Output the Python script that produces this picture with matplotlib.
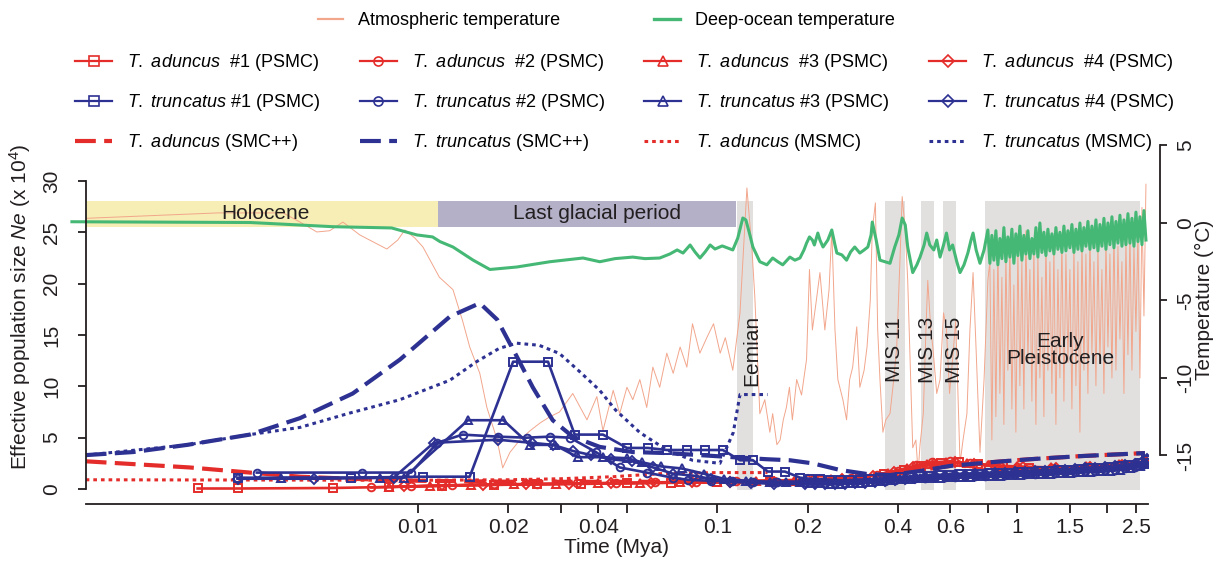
import numpy as np
import matplotlib
matplotlib.use("Agg")
import matplotlib.pyplot as plt
from matplotlib.lines import Line2D
from matplotlib.ticker import NullFormatter

plt.rcParams['font.family'] = ['Liberation Sans', 'DejaVu Sans']
plt.rcParams['mathtext.fontset'] = 'custom'
plt.rcParams['mathtext.rm'] = 'Liberation Sans'
plt.rcParams['mathtext.it'] = 'Liberation Sans:italic'
plt.rcParams['axes.unicode_minus'] = False

# ---------------- data (time in ka, Ne in x10^4, temperature in degC) ----------------
# epochs (ka)
holocene_ka = (0.78, 11.7)
glacial_ka = (11.7, 115)
gray_bands_ka = [(116, 132), (363, 423), (478, 529), (566, 627), (783, 2580)]
gray_labels = ["Eemian", "MIS 11", "MIS 13", "MIS 15"]
gray_label_ka = [130, 390, 504, 620]

# atmospheric temperature
atm_ka = [0.778, 1.38, 2.15, 3.55, 4.04, 4.60, 5.08, 5.62, 6.40, 7.88, 8.57, 9.05, 9.77, 10.4,
          11.8, 13.1, 14.1, 14.9, 16.1, 17.0, 18.4, 19.2, 20.3, 21.9, 23.7, 25.6, 27.6,
          29.7, 32.9, 36.7, 39.6, 41.5, 44.9, 47.2, 49.9, 52.2, 55.1, 58.1, 60.9, 64.2, 67.8,
          71.2, 75.1, 79.1, 82.6, 87.4, 92.2, 97.1, 102.2, 106.3, 112.6, 119, 125.5,
          130.5, 133.4, 138.6, 144, 149.7, 153, 158, 162, 166, 170, 174, 178, 184, 191, 198.5,
          203, 207.6, 214, 220, 228.5, 236, 241, 247, 252.5, 262.5, 270, 276.5, 283, 292, 299,
          309, 316, 324, 329, 337, 343, 349, 357, 365, 377, 388, 397, 407, 414, 424, 432, 442,
          449, 460, 468, 475, 487, 497, 504, 516, 524, 540, 554, 569, 582, 596, 610, 625, 646,
          661, 681, 697, 714, 731, 753, 777, 800,
          812.5, 825.1, 837.9, 850.9, 864.1, 877.5, 891.1, 904.9, 918.9, 933.1, 947.6, 962.3,
          977.2, 992.3, 1007.7, 1023.3, 1039.2, 1055.3, 1071.7, 1088.3, 1105.2, 1122.3, 1139.7,
          1157.4, 1175.3, 1193.5, 1212.0, 1230.8, 1249.9, 1269.3, 1289.0, 1309.0, 1329.2,
          1349.8, 1370.8, 1392.0, 1413.6, 1435.5, 1457.8, 1480.4, 1503.3, 1526.6, 1550.3,
          1574.3, 1598.7, 1623.5, 1648.7, 1674.2, 1700.2, 1726.5, 1753.3, 1780.5, 1808.1,
          1836.1, 1864.6, 1893.5, 1922.8, 1952.6, 1982.9, 2013.6, 2044.8, 2076.5, 2108.7,
          2141.4, 2174.6, 2208.3, 2242.5, 2277.3, 2312.6, 2348.4, 2384.8, 2421.8, 2459.3,
          2497.4, 2536.1, 2575.4, 2615.4, 2655.9, 2697.1]
atm_temp = [0.3, 0.5, 0.65, 0.65, 0.06, -0.58, -0.5, 0.06, -0.77, -1.68, -1.1, -0.45, -0.97, -1.55,
            -3.5, -4.3, -6.3, -8.0, -9.7, -11.9, -14.0, -15.8, -14.8, -14.0, -13.4, -12.9, -12.5,
            -12.2, -11.0, -12.7, -11.2, -13.4, -10.8, -12.3, -10.6, -11.4, -10.1, -11.9, -9.3,
            -10.6, -8.4, -9.7, -8.0, -9.3, -6.5, -8.4, -7.4, -6.5, -8.4, -7.4, -9.5, -5.8, 2.26,
            -1.74, -4.8, -12.3, -11.4, -13.5, -12.3, -14.3, -14.0, -12.7, -11.9, -10.6, -12.7,
            -10.1, -11.1, -8.8, -3.0, -6.9, -5.0, -3.2, -6.9, -4.3, -0.45, -6.9, -10.1, -11.4,
            -12.7, -10.1, -9.3, -6.7, -10.6, -9.5, -8.0, -5.0, -0.45, 1.3, -6.9, -10.1, -13.5,
            -12.7, -12.3, -10.1, -8.0, -2.4, 1.7, -0.45, -3.7, -10.1, -14.5, -14.0, -16.1, -14.3,
            -12.3, -6.9, -3.7, -6.9, -8.0, -11.0, -10.1, -5.8, -6.9, -11.0, -8.8, -6.3, -15.5,
            -14.0, -12.3, -6.9, -3.2, -8.2, -14.8, -10.1, -3.7,
            -2.5, -14.0, -3.0, -12.5, -1.5, -11.0, -3.5, -13.0, -2.0, -9.5, -1.0, -12.0, -4.0,
            -13.5, -1.5, -10.5, -2.5, -12.0, -0.5, -9.0, -3.0, -11.5, -1.5, -13.0, -2.0, -10.0,
            -3.5, -12.5, -1.0, -9.5, -2.5, -11.0, -1.5, -13.0, -3.0, -10.0, -1.0, -11.5, -2.0,
            -9.0, -3.0, -12.0, -1.5, -10.5, -2.5, -13.5, -1.0, -9.5, -2.0, -11.0, -0.5, -8.5,
            -2.5, -10.5, -1.5, -9.0, -3.0, -11.0, -1.0, -8.0, -2.0, -10.0, -0.5, -9.5, -1.5,
            -7.5, -2.5, -11.0, -1.0, -8.5, -0.5, -9.5, -1.5, -7.0, -0.5, -10.0, 1.0, -6.0, 2.5]

# deep-ocean temperature
ocean_ka = [0.70, 1.27, 2.76, 5.21, 8.17, 9.92, 11.2, 11.85, 13.1, 15.3, 17.4, 21.4, 27.6, 35.6,
            40.5, 45.5, 52.2, 57.3, 64.2, 69.4, 73.4, 76.8, 81.1, 84.2, 87.5, 91, 94.6, 98.2,
            103.8, 112.6, 117, 121.6, 124.5, 128.4, 131.4, 138.6, 146.3, 153, 159.2, 165.3,
            174.6, 181.5, 188.7, 194.6, 198.5, 203, 207.6, 210.8, 216.5, 220, 225.3, 233.8, 241,
            247, 250.6, 260.5, 270, 278.5, 287.5, 299, 309, 318, 326, 329, 339, 349, 362.5, 377,
            391, 403.6, 414, 424, 432, 449, 463.5, 475, 490, 500, 512, 528, 540, 554, 569, 582,
            596, 610, 630, 646, 666, 686, 703, 714, 731, 753, 777, 800,
            812.5, 825.1, 837.9, 850.9, 864.1, 877.5, 891.1, 904.9, 918.9, 933.1, 947.6, 962.3,
            977.2, 992.3, 1007.7, 1023.3, 1039.2, 1055.3, 1071.7, 1088.3, 1105.2, 1122.3, 1139.7,
            1157.4, 1175.3, 1193.5, 1212.0, 1230.8, 1249.9, 1269.3, 1289.0, 1309.0, 1329.2,
            1349.8, 1370.8, 1392.0, 1413.6, 1435.5, 1457.8, 1480.4, 1503.3, 1526.6, 1550.3,
            1574.3, 1598.7, 1623.5, 1648.7, 1674.2, 1700.2, 1726.5, 1753.3, 1780.5, 1808.1,
            1836.1, 1864.6, 1893.5, 1922.8, 1952.6, 1982.9, 2013.6, 2044.8, 2076.5, 2108.7,
            2141.4, 2174.6, 2208.3, 2242.5, 2277.3, 2312.6, 2348.4, 2384.8, 2421.8, 2459.3,
            2497.4, 2536.1, 2575.4, 2615.4, 2655.9, 2697.1]
ocean_temp = [0.08, 0.06, 0.03, -0.24, -0.32, -0.77, -0.9, -1.2, -1.55, -2.4, -3.0, -2.84, -2.5,
              -2.26, -2.5, -2.3, -2.2, -2.3, -2.26, -2.0, -1.74, -1.94, -1.42, -1.87, -2.26, -1.87,
              -1.42, -1.68, -1.48, -1.74, -0.97, 0.32, 0.2, -0.77, -1.55, -2.5, -2.7, -2.26, -2.5,
              -2.7, -2.2, -2.4, -2.26, -1.74, -1.3, -0.9, -1.1, -1.42, -0.65, -1.1, -1.55, -1.1,
              -0.45, -1.42, -1.94, -2.06, -2.4, -1.87, -1.55, -1.94, -1.74, -1.55, -0.77, 0.06,
              -1.1, -2.4, -2.5, -2.6, -1.55, -0.77, 0.32, -0.13, -1.55, -3.2, -2.7, -2.2, -1.42,
              -0.65, -1.42, -1.74, -1.1, -2.2, -1.42, -0.65, -1.74, -1.42, -2.5, -3.2, -2.7, -1.94,
              -1.1, -0.65, -1.74, -2.6, -1.74, -0.45,
              -2.6, -0.8, -2.4, -0.5, -2.7, -1.0, -2.3, -0.3, -2.5, -0.9, -2.2, -0.4, -2.6, -0.7,
              -2.1, -0.2, -2.4, -0.8, -2.0, -0.5, -2.3, -1.0, -2.0, -0.3, -2.2, 0.0, -1.9, -0.6,
              -2.1, -0.4, -1.8, -0.7, -2.0, -0.3, -1.7, -0.6, -1.9, -0.2, -1.8, -0.5, -1.6, -0.1,
              -1.9, -0.4, -1.7, 0.0, -1.8, -0.3, -1.5, 0.1, -1.7, -0.2, -1.6, 0.2, -1.8, -0.1,
              -1.5, 0.3, -1.7, 0.0, -1.4, 0.4, -1.6, 0.1, -1.3, 0.5, -1.5, 0.2, -1.4, 0.6, -1.3,
              0.3, -1.5, 0.7, -1.2, 0.4, -1.4, 0.8, -1.1]

# T. aduncus PSMC
ad1_ka = [1.84, 2.5, 5.2, 8.0, 12, 18, 25, 35, 50, 70, 100, 150, 220, 300, 360, 420, 480, 560,
          640, 740, 900, 1100, 1400, 1800, 2300, 2700]
ad1_ne = [0.05, 0.05, 0.1, 0.2, 0.3, 0.4, 0.45, 0.5, 0.55, 0.6, 0.65, 0.75, 0.9, 1.1, 1.5, 1.9,
          2.2, 2.5, 2.6, 2.4, 2.2, 2.0, 1.9, 2.0, 2.2, 2.5]
ad2_ka = [7.0, 9.5, 13, 18, 25, 34, 46, 62, 85, 115, 155, 210, 280, 340, 400, 460, 520, 600,
          700, 850, 1000, 1300, 1700, 2200, 2700]
ad2_ne = [0.15, 0.25, 0.35, 0.45, 0.5, 0.55, 0.6, 0.65, 0.7, 0.75, 0.8, 0.95, 1.1, 1.4, 1.8,
          2.3, 2.6, 2.7, 2.5, 2.3, 2.1, 2.0, 2.1, 2.3, 2.6]
ad3_ka = [8.0, 11, 15, 21, 29, 40, 55, 75, 100, 135, 180, 240, 310, 370, 430, 500, 580, 680,
          800, 1000, 1300, 1700, 2200, 2700]
ad3_ne = [0.2, 0.3, 0.4, 0.45, 0.5, 0.55, 0.6, 0.65, 0.7, 0.75, 0.8, 0.95, 1.2, 1.6, 2.0, 2.4,
          2.6, 2.5, 2.3, 2.2, 2.1, 2.2, 2.4, 2.7]
ad4_ka = [9.0, 12, 16.5, 23, 32, 44, 60, 82, 110, 150, 200, 260, 330, 390, 450, 530, 620, 720,
          880, 1050, 1350, 1750, 2250, 2700]
ad4_ne = [0.25, 0.35, 0.4, 0.45, 0.5, 0.55, 0.6, 0.65, 0.7, 0.75, 0.85, 1.0, 1.3, 1.7, 2.1,
          2.4, 2.6, 2.4, 2.2, 2.1, 2.0, 2.1, 2.3, 2.6]

# T. truncatus PSMC (old time intervals shared by pairs of samples)
tail_a_ka = [189, 204, 220, 238, 257, 277, 299, 323, 349, 377, 407, 439, 474, 512, 553, 597, 645,
             696, 752, 812, 877, 947, 1023, 1105, 1193, 1289, 1392, 1503, 1623, 1753, 1893, 2044,
             2208, 2384, 2575, 2697]
tail_b_ka = [196, 212, 229, 247, 267, 288, 311, 336, 363, 392, 423, 456, 492, 532, 575, 620, 670,
             723, 781, 844, 911, 984, 1063, 1148, 1240, 1339, 1446, 1562, 1686, 1821, 1967, 2124,
             2294, 2477, 2620, 2720]
tr1_ka = [2.5, 6.0, 10.4, 14.9, 20.8, 27.2, 33.4, 41.5, 49.9, 58.6, 67.8, 79.1, 90.8, 104.3,
          119, 131.4, 147.4, 168] + tail_a_ka
tr1_ne = [1.1, 1.1, 1.2, 1.2, 12.4, 12.4, 5.3, 5.3, 4.0, 4.0, 3.8, 3.8, 3.8, 3.8, 2.8, 2.8,
          1.7, 1.7,
          1.1, 1.0, 0.95, 0.9, 0.85, 0.85, 0.9, 0.95, 1.0, 1.1, 1.15, 1.2, 1.25, 1.3, 1.35, 1.4,
          1.45, 1.5, 1.5, 1.55, 1.6, 1.6, 1.65, 1.7, 1.75, 1.8, 1.85, 1.9, 1.95, 2.0, 2.05, 2.1,
          2.2, 2.35, 2.55, 2.8]
tr2_ka = [2.9, 6.5, 9.5, 11.6, 14.1, 18.5, 23.1, 27.6, 32.2, 39.3, 47.2, 58.1, 71, 80, 95,
          112, 132, 158] + tail_b_ka
tr2_ne = [1.6, 1.6, 1.6, 4.5, 5.3, 5.1, 5.0, 5.1, 5.0, 3.6, 2.1, 1.6, 1.1, 0.9, 0.8, 0.75,
          0.7, 0.7,
          0.7, 0.65, 0.6, 0.6, 0.6, 0.65, 0.7, 0.75, 0.8, 0.9, 1.0, 1.05, 1.1, 1.15, 1.2, 1.2,
          1.25, 1.3, 1.3, 1.35, 1.4, 1.45, 1.5, 1.5, 1.55, 1.6, 1.65, 1.7, 1.75, 1.8, 1.85, 1.9,
          2.0, 2.15, 2.35, 2.6]
tr3_ka = [3.5, 7.5, 9.0, 14.7, 19.3, 23.7, 28.6, 34.2, 41.5, 50, 56, 65, 76, 90, 105, 125,
          150, 170] + tail_a_ka
tr3_ne = [1.1, 1.1, 1.1, 6.7, 6.7, 4.3, 4.3, 3.1, 3.1, 3.0, 2.6, 2.2, 2.0, 1.5, 1.0, 0.8,
          0.7, 0.7,
          0.7, 0.6, 0.55, 0.5, 0.5, 0.55, 0.6, 0.65, 0.75, 0.85, 0.95, 1.0, 1.05, 1.1, 1.1, 1.15,
          1.2, 1.2, 1.25, 1.3, 1.3, 1.35, 1.4, 1.45, 1.5, 1.5, 1.55, 1.6, 1.65, 1.7, 1.75, 1.8,
          1.9, 2.05, 2.2, 2.45]
tr4_ka = [2.5, 4.5, 8.3, 11.3, 18.5, 24, 28.2, 33, 38, 44, 52, 61, 71, 83, 95, 110, 130,
          155] + tail_b_ka
tr4_ne = [1.0, 1.0, 1.1, 4.5, 4.8, 4.5, 4.3, 3.7, 3.3, 2.9, 2.7, 2.1, 1.5, 1.3, 1.0, 0.7,
          0.6, 0.5,
          0.5, 0.45, 0.45, 0.45, 0.5, 0.55, 0.6, 0.7, 0.8, 0.9, 1.0, 1.1, 1.2, 1.25, 1.3, 1.35,
          1.4, 1.45, 1.5, 1.55, 1.6, 1.65, 1.7, 1.75, 1.8, 1.85, 1.9, 1.95, 2.0, 2.05, 2.1, 2.2,
          2.3, 2.45, 2.65, 2.9]

# SMC++
tr_smc_ka = [0.778, 1.12, 1.70, 2.75, 4.04, 6.06, 8.71, 12.8, 16.1, 18.4, 21.4, 24.2, 28.2,
             32.9, 40.5, 52.2, 67.8, 87.4, 112.7, 146.3, 174.6, 208, 257, 316, 377, 475, 596,
             812.5, 1105, 1623, 2676]
tr_smc_ne = [3.3, 3.6, 4.3, 5.3, 6.9, 9.3, 12.6, 16.8, 18.1, 16.5, 12.9, 9.9, 6.7, 5.1, 4.1,
             3.6, 3.5, 3.3, 3.1, 2.9, 2.8, 2.5, 1.85, 1.46, 1.36, 1.75, 2.24, 2.6, 2.9, 3.2, 3.5]
ad_smc_ka = [0.778, 1.73, 2.75, 4.04, 5.93, 10.15, 21.9, 47.2, 102, 188.7, 299, 377, 596,
             812.5, 1105, 1623, 2676]
ad_smc_ne = [2.7, 2.1, 1.6, 1.2, 1.0, 0.8, 0.7, 0.7, 0.7, 0.8, 1.1, 1.46, 2.24, 2.6, 2.9, 3.2,
             3.5]

# MSMC
tr_msmc_ka = [0.778, 1.70, 2.75, 4.04, 5.93, 8.71, 12.8, 15.7, 18.7, 21.4, 25.4, 29.7, 34.8,
              40.5, 45.7, 55.1, 67.8, 82.6, 102, 113, 119, 147]
tr_msmc_ne = [3.3, 4.3, 5.3, 6.0, 7.4, 8.7, 10.6, 12.4, 13.7, 14.2, 14.0, 13.2, 11.4, 9.6, 7.7,
              5.5, 3.8, 2.8, 2.5, 5.5, 9.2, 9.2]
ad_msmc_ka = [0.778, 10, 20, 30, 45, 65, 100, 147]
ad_msmc_ne = [0.9, 0.85, 0.9, 1.0, 1.2, 1.5, 1.6, 1.6]

# ---------------- styles ----------------
RED = '#E42D2A'
BLUE = '#2D3192'
GREEN = '#46B875'
ATM = '#F2A68C'
INK = '#231F20'
FS = 15

fig = plt.figure(figsize=(12.22, 5.61), dpi=100)
ax = fig.add_axes([86 / 1222, 57 / 561, 1062 / 1222, 361 / 561])
ax2 = ax.twinx()
ax.set_zorder(2)
ax2.set_zorder(1)
ax.patch.set_visible(False)

ka = lambda v: np.asarray(v) / 1000.0

# bands and temperature (right axis)
ax2.fill_between(ka(holocene_ka), -0.26, 1.42, color='#F6EEB4', lw=0, zorder=0)
ax2.fill_between(ka(glacial_ka), -0.26, 1.42, color='#B4B0C8', lw=0, zorder=0)
for a, b in gray_bands_ka:
    ax2.fill_between(ka([a, b]), -17.2, 1.42, color='#9F9B97', alpha=0.3, lw=0, zorder=0)
ax2.plot(ka(atm_ka), atm_temp, color=ATM, lw=0.7, zorder=2)
ax2.plot(ka(ocean_ka), ocean_temp, color=GREEN, lw=2.2, zorder=3, clip_on=False)

ax2.text(ka(3.1), 0.58, 'Holocene', fontsize=FS, ha='center', va='center', color=INK, zorder=4)
ax2.text(ka(39.6), 0.58, 'Last glacial period', fontsize=FS, ha='center', va='center',
         color=INK, zorder=4)
for lab, t in zip(gray_labels, gray_label_ka):
    ax2.text(ka(t), -8.2, lab, fontsize=FS, rotation=90, ha='center', va='center', color=INK,
             zorder=4)
ax2.text(ka(1392), -8.2, 'Early\nPleistocene', fontsize=FS, ha='center', va='center',
         color=INK, linespacing=0.9, zorder=4)

# population curves (left axis)
psmc_kw = dict(lw=1.9, ms=5.5, mfc='none', mew=1.4)
ad_series = [(ad1_ka, ad1_ne, 's'), (ad2_ka, ad2_ne, 'o'), (ad3_ka, ad3_ne, '^'),
             (ad4_ka, ad4_ne, 'D')]
tr_series = [(tr1_ka, tr1_ne, 's'), (tr2_ka, tr2_ne, 'o'), (tr3_ka, tr3_ne, '^'),
             (tr4_ka, tr4_ne, 'D')]
ax.plot(ka(ad_msmc_ka), ad_msmc_ne, color=RED, lw=2.2, dashes=(1.2, 1.3))
ax.plot(ka(ad_smc_ka), ad_smc_ne, color=RED, lw=3, dashes=(5, 2))
for t, n, m in ad_series:
    ax.plot(ka(t), n, color=RED, marker=m, **psmc_kw)
for t, n, m in tr_series:
    ax.plot(ka(t), n, color=BLUE, marker=m, **psmc_kw)
ax.plot(ka(tr_msmc_ka), tr_msmc_ne, color=BLUE, lw=2.2, dashes=(1.2, 1.3))
ax.plot(ka(tr_smc_ka), tr_smc_ne, color=BLUE, lw=3, dashes=(5, 2))

# axes
ax.set_xscale('log')
ax.set_xlim(0.00078, 2.74)
ax.set_ylim(-1.46, 33.7)
ax2.set_ylim(-18.13, 5.16)
major = [0.01, 0.02, 0.04, 0.1, 0.2, 0.4, 0.6, 1, 1.5, 2.5]
ax.set_xticks(major)
ax.set_xticklabels(['0.01', '0.02', '0.04', '0.1', '0.2', '0.4', '0.6', '1', '1.5', '2.5'])
ax.set_xticks([0.03, 0.05, 0.8, 2], minor=True)
ax.xaxis.set_minor_formatter(NullFormatter())
ax.set_yticks([0, 5, 10, 15, 20, 25, 30])
ax2.set_yticks([5, 0, -5, -10, -15])
ax2.set_yticklabels(['5', '0', '-5', '-10', '-15'])

for s in ['top', 'right']:
    ax.spines[s].set_visible(False)
for s in ['top', 'left', 'bottom']:
    ax2.spines[s].set_visible(False)
ax.spines['left'].set_bounds(0, 30)
ax2.spines['right'].set_bounds(-15, 5)
ax2.spines['right'].set_position(('outward', 8.6))
for sp in [ax.spines['left'], ax.spines['bottom'], ax2.spines['right']]:
    sp.set_color(INK)
    sp.set_linewidth(1.3)

ax.tick_params(axis='x', which='both', direction='out', length=6.5, width=1.3, pad=3.5,
               labelsize=FS, colors=INK)
ax.tick_params(axis='y', direction='out', length=6, width=1.3, pad=12, labelsize=FS,
               labelrotation=90, colors=INK)
ax2.tick_params(axis='y', direction='out', length=5, width=1.3, pad=7, labelsize=FS,
                labelrotation=90, colors=INK)
ax2.tick_params(axis='x', which='both', bottom=False, labelbottom=False)
for lab in ax.get_yticklabels() + ax2.get_yticklabels():
    lab.set_verticalalignment('center')

ax.set_xlabel('Time (Mya)', fontsize=FS, color=INK, labelpad=1)
ax.set_ylabel(r'Effective population size $\mathit{Ne}$ (x 10$^{4}$)', fontsize=FS, color=INK)
ax.yaxis.set_label_coords(-0.050, 0.546)
ax2.set_ylabel('Temperature (°C)', fontsize=FS, color=INK)
ax2.yaxis.set_label_coords(1.044, 0.565)

# legends
def h(color, **kw):
    return Line2D([], [], color=color, **kw)

leg_kw = dict(frameon=False, fontsize=13, borderpad=0, borderaxespad=0, handlelength=2.05,
              handletextpad=0.83, columnspacing=2.2, labelspacing=1.05, loc='upper left')
lk = dict(lw=1.6, ms=6.5, mfc='none', mew=1.2)
handles = [
    h(RED, marker='s', **lk), h(BLUE, marker='s', **lk), h(RED, lw=3, dashes=(5, 2)),
    h(RED, marker='o', **lk), h(BLUE, marker='o', **lk), h(BLUE, lw=3, dashes=(5, 2)),
    h(RED, marker='^', **lk), h(BLUE, marker='^', **lk), h(RED, lw=2.2, dashes=(1.2, 1.3)),
    h(RED, marker='D', **lk), h(BLUE, marker='D', **lk), h(BLUE, lw=2.2, dashes=(1.2, 1.3)),
]
ad = r'$\mathit{T.\ aduncus}$'
tr = r'$\mathit{T.\ truncatus}$'
labels = [ad + '  #1 (PSMC)', tr + ' #1 (PSMC)', ad + ' (SMC++)',
          ad + '  #2 (PSMC)', tr + ' #2 (PSMC)', tr + ' (SMC++)',
          ad + '  #3 (PSMC)', tr + ' #3 (PSMC)', ad + ' (MSMC)',
          ad + '  #4 (PSMC)', tr + ' #4 (PSMC)', tr + ' (MSMC)']
fig.legend(handles, labels, ncol=4, bbox_to_anchor=(75 / 1222, 1 - 52 / 561), **leg_kw)
top_kw = dict(leg_kw, handlelength=1.4, columnspacing=5.2)
fig.legend([h(ATM, lw=1.6), h(GREEN, lw=2.4)], ['Atmospheric temperature', 'Deep-ocean temperature'],
           ncol=2, bbox_to_anchor=(318 / 1222, 1 - 12 / 561), **top_kw)

fig.savefig('out.png', dpi=100)
